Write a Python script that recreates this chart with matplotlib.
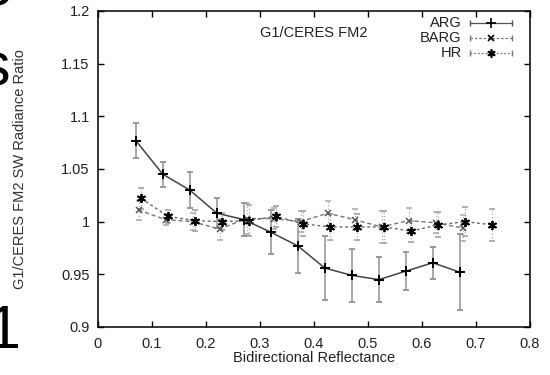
import numpy as np
import matplotlib.pyplot as plt

plt.rcParams['font.family'] = ['Liberation Sans', 'DejaVu Sans']

# ARG
arg_x = [0.07, 0.12, 0.17, 0.22, 0.27, 0.32, 0.37, 0.42, 0.47, 0.52, 0.57, 0.62, 0.67]
arg_y = [1.077, 1.045, 1.030, 1.008, 1.002, 0.990, 0.977, 0.956, 0.949, 0.945, 0.953, 0.961, 0.952]
arg_err = [0.017, 0.012, 0.017, 0.014, 0.016, 0.021, 0.026, 0.030, 0.025, 0.021, 0.018, 0.015, 0.036]

# BARG
barg_x = [0.075, 0.125, 0.175, 0.225, 0.275, 0.325, 0.375, 0.425, 0.475, 0.525, 0.575, 0.625, 0.675]
barg_y = [1.011, 1.002, 1.000, 0.993, 1.003, 1.003, 1.000, 1.008, 1.002, 0.995, 1.001, 0.999, 0.994]
barg_err = [0.009, 0.005, 0.008, 0.010, 0.015, 0.010, 0.010, 0.012, 0.010, 0.015, 0.012, 0.010, 0.012]

# HR
hr_x = [0.08, 0.13, 0.18, 0.23, 0.28, 0.33, 0.38, 0.43, 0.48, 0.53, 0.58, 0.63, 0.68, 0.73]
hr_y = [1.022, 1.005, 1.001, 1.000, 1.001, 1.005, 0.998, 0.995, 0.995, 0.995, 0.991, 0.997, 1.000, 0.997]
hr_err = [0.010, 0.006, 0.010, 0.008, 0.015, 0.010, 0.012, 0.012, 0.012, 0.015, 0.010, 0.012, 0.014, 0.015]

fig = plt.figure(figsize=(5.5, 3.75), dpi=100)
ax = fig.add_axes([98 / 550, 1 - 327 / 375, 432 / 550, 316 / 375])

star = (6, 2, 0)

eb = ax.errorbar(barg_x, barg_y, yerr=barg_err, color='#777777', ls=(0, (3, 2)), lw=1,
                 marker='x', ms=4.5, mec='#555555', mew=1.1,
                 ecolor='#aaaaaa', elinewidth=0.9, capsize=2)
eb[2][0].set_linestyle(':')
eb = ax.errorbar(hr_x, hr_y, yerr=hr_err, color='#666666', ls=(0, (2, 2)), lw=1,
                 marker=star, ms=6.5, mec='black', mew=1.3,
                 ecolor='#aaaaaa', elinewidth=0.9, capsize=2)
eb[2][0].set_linestyle(':')
ax.errorbar(arg_x, arg_y, yerr=arg_err, color='#444444', ls='-', lw=1.1,
            marker='+', ms=7, mec='black', mew=1.4,
            ecolor='#999999', elinewidth=1.2, capsize=2.5)

ax.set_xlim(0, 0.8)
ax.set_ylim(0.9, 1.2)
ax.set_xticks(np.arange(0, 0.81, 0.1))
ax.set_xticklabels(['0', '0.1', '0.2', '0.3', '0.4', '0.5', '0.6', '0.7', '0.8'])
ax.set_yticks([0.9, 0.95, 1.0, 1.05, 1.1, 1.15, 1.2])
ax.set_yticklabels(['0.9', '0.95', '1', '1.05', '1.1', '1.15', '1.2'])
ax.tick_params(direction='in', length=4.5, width=1, top=True, right=True,
               labelsize=10.5, labelcolor='#222222')
ax.tick_params(axis='x', pad=7)
ax.tick_params(axis='y', pad=6)
for s in ax.spines.values():
    s.set_linewidth(1.1)

ax.set_xlabel('Bidirectional Reflectance', fontsize=10.5, color='#222222')
ax.set_ylabel('G1/CERES FM2 SW Radiance Ratio', fontsize=10.5, color='#333333')
ax.xaxis.set_label_coords(0.5, -0.075)
ax.yaxis.set_label_coords(-0.165, 0.5)

ax.text(0.5, 0.93, 'G1/CERES FM2', transform=ax.transAxes, ha='center', va='center',
        fontsize=10.5, color='#222222')

# gnuplot-like key
keys = [('ARG', '-', '+', '#555555', 7), ('BARG', (0, (2, 1.5)), 'x', '#777777', 4.5),
        ('HR', (0, (1.5, 1.5)), star, '#777777', 6)]
for i, (name, ls, mk, col, ms) in enumerate(keys):
    yy = 0.963 - i * 0.0475
    ax.text(0.842, yy, name, transform=ax.transAxes, ha='right', va='center',
            fontsize=10.5, color='#222222')
    ax.plot([0.861, 0.959], [yy, yy], transform=ax.transAxes, color=col, ls=ls, lw=0.9,
            marker='|', markevery=[0, 1], ms=4, clip_on=False)
    ax.plot([0.910], [yy], transform=ax.transAxes, color='black', marker=mk, ms=ms,
            mew=1.2, ls='none', clip_on=False)

# cut-off slide text at the left edge
fig.text(12 / 550, 1 - 5 / 375, 'e', ha='right', va='baseline', fontsize=44)
fig.text(10 / 550, 1 - 85 / 375, 's', ha='right', va='baseline', fontsize=44)
fig.text(20 / 550, 1 - 348 / 375, '1', ha='right', va='baseline', fontsize=44)

fig.savefig('out.png', dpi=100)
